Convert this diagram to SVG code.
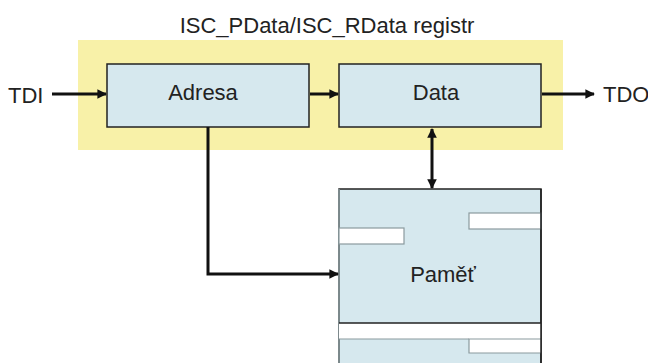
<svg xmlns="http://www.w3.org/2000/svg" width="648" height="363" viewBox="0 0 648 363">
  <style>
    text { font-family: "Liberation Sans", Arial, sans-serif; fill: #222; font-size: 22px; }
    .lbl { text-anchor: middle; }
    .box { fill: #d6e8ee; stroke: #222; stroke-width: 1.5; }
    .slot { fill: #fff; stroke: #8a9a9e; stroke-width: 1.2; }
    .wire { fill: none; stroke: #111; stroke-width: 3; }
  </style>
  <defs>
    <marker id="ah" viewBox="0 0 10 10" refX="9" refY="5" markerWidth="3.2" markerHeight="3.2" orient="auto-start-reverse" markerUnits="strokeWidth">
      <path d="M0,0 L10,5 L0,10 z" fill="#111"/>
    </marker>
  </defs>

  <rect width="648" height="363" fill="#fff"/>

  <!-- register frame -->
  <g id="register">
    <rect x="78" y="40" width="485" height="110" fill="#f8f1a8"/>
    <text class="lbl" x="327" y="33">ISC_PData/ISC_RData registr</text>
  </g>

  <g id="adresa">
    <rect class="box" x="107" y="64" width="202" height="63"/>
    <text class="lbl" x="203" y="100">Adresa</text>
  </g>

  <g id="data">
    <rect class="box" x="339" y="64" width="202" height="63"/>
    <text class="lbl" x="436" y="100">Data</text>
  </g>

  <g id="pamet">
    <rect x="339" y="189" width="202" height="180" fill="#d6e8ee"/>
    <path d="M339,363 V189 H541 V363" fill="none" stroke="#222" stroke-width="1.5"/>
    <path d="M339,189 V363" stroke="#8a9a9e" stroke-width="1.5"/>
    <rect class="slot" x="469" y="213" width="72" height="16"/>
    <rect class="slot" x="339" y="228" width="65" height="16"/>
    <rect x="339" y="323" width="202" height="16" fill="#fff"/>
    <line x1="339" y1="323" x2="541" y2="323" stroke="#222" stroke-width="1.5"/>
    <line x1="339" y1="339" x2="469" y2="339" stroke="#8a9a9e" stroke-width="1.2"/>
    <path class="slot" d="M541,339 H469 V353 H541"/>
    <line x1="541" y1="189" x2="541" y2="363" stroke="#222" stroke-width="1.5"/>
    <text class="lbl" x="443" y="282">Paměť</text>
  </g>

  <g id="tdi"><text x="8" y="103">TDI</text></g>
  <g id="tdo"><text x="603" y="102">TDO</text></g>

  <g id="connectors">
    <line class="wire" x1="52" y1="94" x2="106" y2="94" marker-end="url(#ah)"/>
    <line class="wire" x1="310" y1="94" x2="338" y2="94" marker-end="url(#ah)"/>
    <line class="wire" x1="542" y1="94" x2="594" y2="94" marker-end="url(#ah)"/>
    <path class="wire" d="M208,127 V274 H338" marker-end="url(#ah)"/>
    <line class="wire" x1="432" y1="129" x2="432" y2="188" marker-start="url(#ah)" marker-end="url(#ah)"/>
  </g>
</svg>
